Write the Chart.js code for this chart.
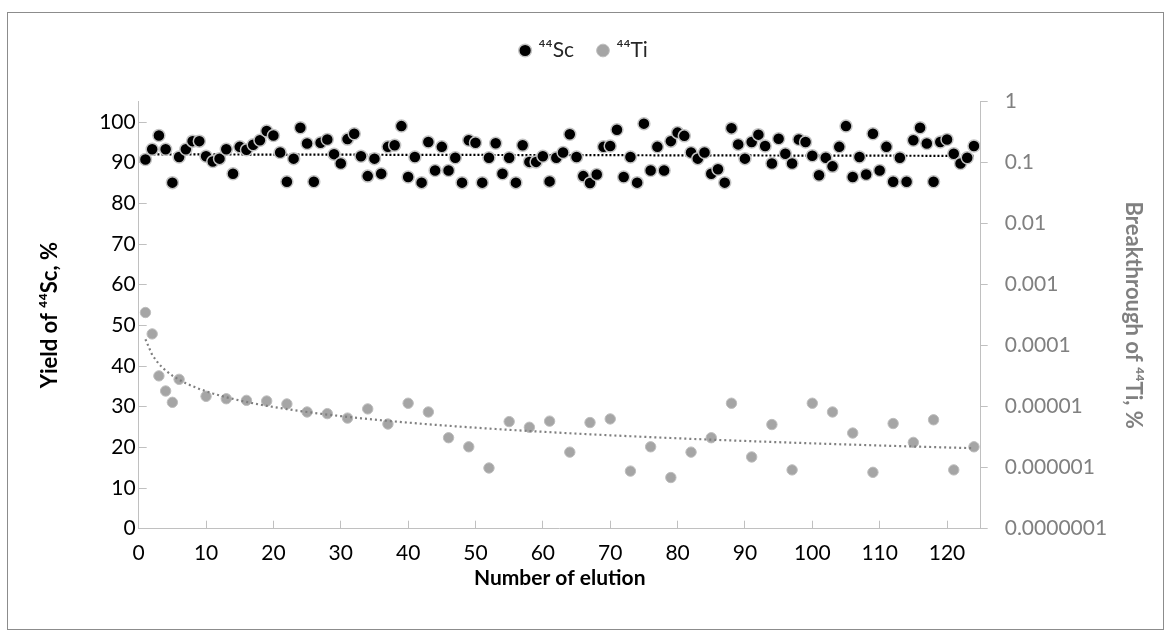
<!DOCTYPE html>
<html>
<head>
<meta charset="utf-8">
<script src="https://cdn.jsdelivr.net/npm/chart.js@4.4.0/dist/chart.umd.min.js"></script>
<style>
  html, body { margin: 0; padding: 0; background: #fff; }
  #wrap { position: relative; width: 1170px; height: 638px; }
  #frame { position: absolute; left: 7px; top: 12px; width: 1155px; height: 616px;
           border: 1px solid #8c8c8c; pointer-events: none; }
</style>
</head>
<body>
<div id="wrap">
  <canvas id="elutionChart" width="1170" height="638"></canvas>
  <div id="frame"></div>
</div>
<script>
// yield of 44Sc for each elution (1..124), %
const scYield = [
  90.8, 93.3, 96.7, 93.3, 85.1, 91.4, 93.3, 95.3, 95.3, 91.6,
  90.3, 91.0, 93.3, 87.3, 93.9, 93.2, 94.4, 95.5, 97.8, 96.7,
  92.5, 85.3, 91.0, 98.6, 94.7, 85.3, 94.9, 95.7, 92.1, 89.8,
  95.8, 97.1, 91.6, 86.7, 91.0, 87.3, 93.9, 94.3, 99.0, 86.5,
  91.4, 85.1, 95.1, 88.1, 93.9, 88.1, 91.2, 85.1, 95.5, 94.9,
  85.1, 91.2, 94.8, 87.3, 91.2, 85.1, 94.3, 90.2, 90.2, 91.6,
  85.4, 91.2, 92.5, 97.0, 91.4, 86.7, 85.0, 87.1, 93.9, 94.1,
  98.1, 86.5, 91.4, 85.1, 99.6, 88.1, 93.9, 88.1, 95.3, 97.4,
  96.6, 92.5, 91.0, 92.5, 87.3, 88.4, 85.1, 98.5, 94.5, 91.0,
  95.1, 96.9, 94.1, 89.8, 95.9, 92.2, 89.8, 95.7, 95.1, 91.7,
  86.9, 91.2, 89.1, 93.9, 99.0, 86.5, 91.4, 87.1, 97.1, 88.1,
  93.9, 85.3, 91.2, 85.3, 95.5, 98.6, 94.7, 85.3, 95.1, 95.7,
  92.2, 89.8, 91.2, 94.1
];

// 44Ti breakthrough, only measured on some elutions, %
const tiElution = [1, 2, 3, 4, 5, 6, 10, 13, 16, 19, 22, 25, 28, 31, 34, 37, 40, 43, 46, 49,
  52, 55, 58, 61, 64, 67, 70, 73, 76, 79, 82, 85, 88, 91, 94, 97, 100, 103, 106, 109,
  112, 115, 118, 121, 124];
const tiBreakthrough = [3.5e-4, 1.56e-4, 3.2e-5, 1.81e-5, 1.18e-5, 2.81e-5, 1.48e-5, 1.35e-5, 1.27e-5, 1.24e-5,
  1.11e-5, 8.2e-6, 7.7e-6, 6.5e-6, 9.2e-6, 5.2e-6, 1.14e-5, 8.2e-6, 3.1e-6, 2.2e-6,
  9.9e-7, 5.7e-6, 4.6e-6, 5.8e-6, 1.8e-6, 5.5e-6, 6.3e-6, 8.8e-7, 2.2e-6, 6.9e-7,
  1.8e-6, 3.1e-6, 1.14e-5, 1.5e-6, 5.1e-6, 9.2e-7, 1.14e-5, 8.2e-6, 3.7e-6, 8.4e-7,
  5.3e-6, 2.6e-6, 6.1e-6, 9.2e-7, 2.2e-6];

// tick labels
const xTicks = [0, 10, 20, 30, 40, 50, 60, 70, 80, 90, 100, 110, 120];
const yieldTicks = [0, 10, 20, 30, 40, 50, 60, 70, 80, 90, 100];
const breakTicks = [1, 0.1, 0.01, 0.001, 0.0001, 0.00001, 0.000001, 0.0000001];

const FONT = "Lato, 'Noto Sans', sans-serif";
Chart.defaults.font.family = FONT;

const scPoints = scYield.map((v, i) => ({ x: i + 1, y: v }));
const tiPoints = tiElution.map((x, i) => ({ x: x, y: tiBreakthrough[i] }));

// linear trendline for the yield (least squares, like the spreadsheet does)
function linearFit(pts) {
  const n = pts.length;
  let sx = 0, sy = 0, sxx = 0, sxy = 0;
  pts.forEach((p) => { sx += p.x; sy += p.y; sxx += p.x * p.x; sxy += p.x * p.y; });
  const b = (n * sxy - sx * sy) / (n * sxx - sx * sx);
  return { a: (sy - b * sx) / n, b: b };
}
const scFit = linearFit(scPoints);
const firstX = 1;
const lastX = scYield.length;
const scTrend = [firstX, lastX].map((x) => ({ x: x, y: scFit.a + scFit.b * x }));

// power trendline for the breakthrough (fit in log-log space)
const tiLogFit = linearFit(tiPoints.map((p) => ({ x: Math.log(p.x), y: Math.log(p.y) })));
const tiTrend = [];
for (let x = firstX; x <= lastX; x++) {
  tiTrend.push({ x: x, y: Math.exp(tiLogFit.a) * Math.pow(x, tiLogFit.b) });
}

// force the legend block height so the plot starts where the original does
const legendHeight = {
  id: "legendHeight",
  beforeInit(chart) {
    const fit = chart.legend.fit;
    chart.legend.fit = function () {
      fit.bind(chart.legend)();
      this.height = 101.7;
    };
  },
};

const axisGrey = "#c0c0c0";

new Chart(document.getElementById("elutionChart"), {
  type: "scatter",
  data: {
    datasets: [
      {
        label: "\u2074\u2074Sc",
        data: scPoints,
        yAxisID: "y",
        backgroundColor: "#000000",
        borderColor: "#c4c4c4",
        borderWidth: 1.5,
        pointRadius: 6,
        order: 0,
      },
      {
        label: "trendSc",
        data: scTrend,
        yAxisID: "y",
        showLine: true,
        pointRadius: 0,
        borderColor: "#000000",
        borderWidth: 2.2,
        borderDash: [2, 2],
        order: 1,
      },
      {
        label: "trendTi",
        data: tiTrend,
        yAxisID: "y2",
        showLine: true,
        pointRadius: 0,
        borderColor: "#7f7f7f",
        borderWidth: 2.2,
        borderDash: [2, 3],
        order: 2,
      },
      {
        label: "\u2074\u2074Ti",
        data: tiPoints,
        yAxisID: "y2",
        backgroundColor: "#a5a5a5",
        borderColor: "#bdbdbd",
        borderWidth: 1,
        pointRadius: 5.2,
        order: 3,
      },
    ],
  },
  options: {
    responsive: false,
    animation: false,
    layout: { padding: 0 },
    plugins: {
      tooltip: { enabled: false },
      legend: {
        position: "top",
        title: { display: true, text: "", font: { size: 10 }, padding: { top: 0, bottom: 2 } },
        labels: {
          usePointStyle: true,
          boxWidth: 6,
          boxHeight: 9,
          padding: 26,
          color: "#262626",
          font: { size: 21 },
          filter: (item) => !item.text.startsWith("trend"),
        },
      },
    },
    scales: {
      x: {
        type: "linear",
        position: "bottom",
        min: 0,
        max: 125,
        afterBuildTicks: (s) => { s.ticks = xTicks.map((v) => ({ value: v })); },
        afterFit: (s) => { s.height = 109.3; },
        grid: { drawOnChartArea: false, color: axisGrey, tickLength: -8 },
        border: { color: axisGrey, width: 1 },
        ticks: { color: "#000", font: { size: 21 }, padding: 20, maxRotation: 0 },
        title: {
          display: true,
          text: "Number of elution",
          color: "#000",
          font: { size: 21, weight: "bold" },
          padding: { top: 0, bottom: 47 },
        },
      },
      y: {
        type: "linear",
        position: "left",
        min: 0,
        max: 105,
        afterBuildTicks: (s) => { s.ticks = yieldTicks.map((v) => ({ value: v })); },
        afterFit: (s) => { s.width = 138.7; },
        grid: { drawOnChartArea: false, color: axisGrey, tickLength: -8 },
        border: { color: axisGrey, width: 1 },
        ticks: { color: "#000", font: { size: 21 }, padding: 11 },
        title: {
          display: true,
          text: "Yield of \u2074\u2074Sc, %",
          color: "#000",
          font: { size: 22, weight: "bold" },
          padding: { top: 37, bottom: 0 },
        },
      },
      y2: {
        type: "logarithmic",
        position: "right",
        min: 0.0000001,
        max: 1,
        afterBuildTicks: (s) => { s.ticks = breakTicks.map((v) => ({ value: v })); },
        afterFit: (s) => { s.width = 189.3; },
        grid: { drawOnChartArea: false, color: axisGrey, tickLength: 7 },
        border: { color: axisGrey, width: 1 },
        ticks: {
          color: "#808080",
          font: { size: 21 },
          padding: 17,
          callback: (v) => Number(v).toFixed(Math.max(0, -Math.round(Math.log10(v)))),
        },
        title: {
          display: true,
          text: "Breakthrough of \u2074\u2074Ti, %",
          color: "#808080",
          font: { size: 22, weight: "bold" },
          padding: { top: 24, bottom: 0 },
        },
      },
    },
  },
  plugins: [legendHeight],
});
</script>
</body>
</html>
